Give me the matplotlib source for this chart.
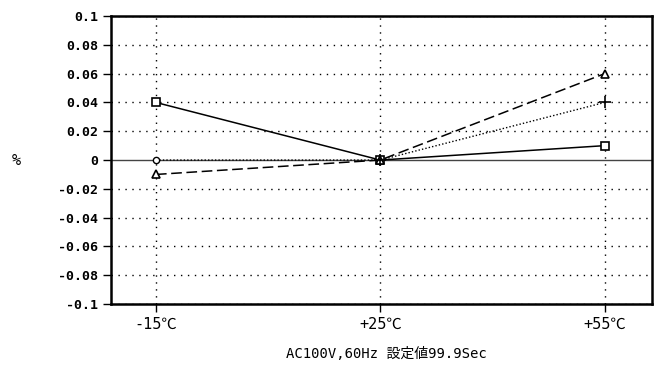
import matplotlib
matplotlib.use("Agg")
import matplotlib.pyplot as plt

# Dane
temps = ['-15℃', '+25℃', '+55℃']
sq_vals = [0.04, 0.0, 0.01]      # kwadraty, linia ciągła
tri_vals = [-0.01, 0.0, 0.06]    # trójkąty, linia przerywana
plus_vals = [0.0, 0.0, 0.04]     # kółko / plus, linia kropkowana
yticks = [0.1, 0.08, 0.06, 0.04, 0.02, 0, -0.02, -0.04, -0.06, -0.08, -0.1]
ytick_labels = ['0.1', '0.08', '0.06', '0.04', '0.02', '0', '-0.02', '-0.04', '-0.06', '-0.08', '-0.1']
xlabel = 'AC100V,60Hz 設定値99.9Sec'

plt.rcParams['font.family'] = ['DejaVu Sans Mono', 'Noto Sans CJK JP']

fig = plt.figure(figsize=(6.61, 3.65), dpi=100)
ax = fig.add_axes([0.168, 0.167, 0.818, 0.789])

x = list(range(len(temps)))

# siatka kropkowana
for y in yticks:
    if y != 0:
        ax.axhline(y, color='black', linestyle=(0, (1, 4)), linewidth=1.0, zorder=1)
for xi in x:
    ax.axvline(xi, color='black', linestyle=(0, (1, 4)), linewidth=1.0, zorder=1)
ax.axhline(0, color='#444444', linewidth=1.0, zorder=2)

ax.plot(x, sq_vals, color='black', linewidth=1.1, marker='s', markersize=5.5,
        markerfacecolor='white', markeredgewidth=1.2, zorder=3)
ax.plot(x, tri_vals, color='black', linewidth=1.1, linestyle=(0, (7, 3)), marker='^',
        markersize=5.5, markerfacecolor='white', markeredgewidth=1.2, zorder=3)
ax.plot(x, plus_vals, color='black', linewidth=1.0, linestyle=(0, (1, 1.5)), zorder=3)
ax.plot(x[:1], plus_vals[:1], linestyle='none', marker='o', markersize=4.5,
        markerfacecolor='white', markeredgecolor='black', zorder=4)
ax.plot(x[1:], plus_vals[1:], linestyle='none', marker='+', markersize=8,
        markeredgewidth=1.2, color='black', zorder=4)

ax.set_xlim(-0.2, 2.21)
ax.set_ylim(-0.1, 0.1)
ax.set_yticks(yticks)
ax.set_yticklabels(ytick_labels, fontsize=9.5, fontweight='bold')
ax.set_xticks(x)
ax.set_xticklabels(temps, fontsize=11)
ax.tick_params(direction='out', length=6, width=1.0, colors='black')

for s in ax.spines.values():
    s.set_linewidth(1.8)

fig.text(0.025, 0.56, '%', fontsize=11, ha='center', va='center')
fig.text(0.585, 0.03, xlabel, fontsize=10, ha='center', va='center')

fig.savefig('out.png', dpi=100)
